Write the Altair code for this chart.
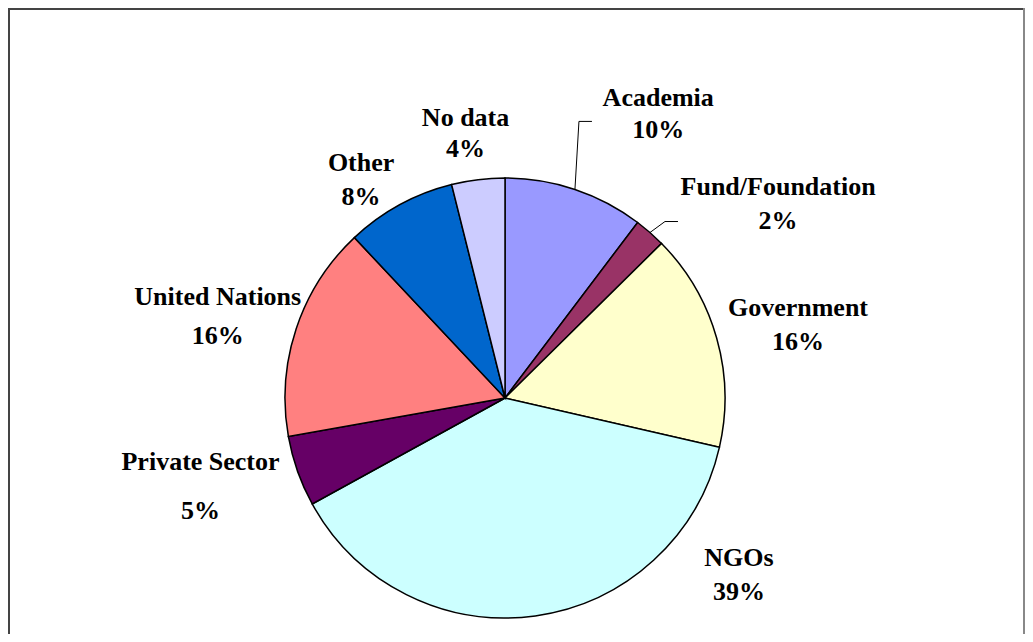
import altair as alt
import pandas as pd

# ---- data ----
categories = ["Academia", "Fund/Foundation", "Government", "NGOs",
              "Private Sector", "United Nations", "Other", "No data"]
values = [10.3, 2.3, 16.0, 38.4, 5.2, 15.8, 8.1, 3.9]
pct_labels = ["10%", "2%", "16%", "39%", "5%", "16%", "8%", "4%"]
colors = ["#9999FF", "#993366", "#FFFFCC", "#CCFFFF",
          "#660066", "#FF8080", "#0066CC", "#CCCCFF"]

df = pd.DataFrame({
    "category": categories,
    "value": values,
    "pct": pct_labels,
    "order": list(range(len(categories))),
})
df["label"] = df["category"] + "\n" + df["pct"]

# ---- layout / style ----
W, H = 1017, 626
CX, CY = 497, 390
R = 220
LABEL_R = 290
FONT = "Liberation Serif"
FS = 26

label_style = {  # dx, dy, line height
    "Academia": (61, -9, 32),
    "Fund/Foundation": (82, 24, 34),
    "Government": (14, 6, 34),
    "NGOs": (194, -110, 34),
    "Private Sector": (-31, -8, 49),
    "United Nations": (-12, 10, 39),
    "Other": (-5, 37, 34),
    "No data": (-4, 23, 31),
}
leaders = {  # elbow offset from slice edge, horizontal tail length
    "Academia": (4, -68, 13),
    "Fund/Foundation": (15, -11, 13),
}

theta_scale = alt.Scale(domain=[0, 100])
color_scale = alt.Scale(domain=categories, range=colors)

base = alt.Chart(df)

pie = base.mark_arc(outerRadius=R, stroke="black", strokeWidth=1.5).encode(
    theta=alt.Theta("value:Q", stack=True, scale=theta_scale),
    color=alt.Color("category:N", scale=color_scale, legend=None),
    order=alt.Order("order:Q"),
    x=alt.value(CX),
    y=alt.value(CY),
)

stacked = base.transform_window(
    cum="sum(value)", sort=[alt.SortField("order")], frame=[None, 0]
).transform_calculate(mid="datum.cum - datum.value / 2")

layers = [pie]
for cat in categories:
    dx, dy, lh = label_style[cat]
    layers.append(
        stacked.transform_filter(alt.datum.category == cat).mark_text(
            font=FONT, fontWeight="bold", fontSize=FS, lineBreak="\n",
            lineHeight=lh, align="center", baseline="middle",
            dx=dx, dy=dy - lh / 2, color="black",
        ).encode(
            theta=alt.Theta("mid:Q", stack=None, scale=theta_scale),
            radius=alt.value(LABEL_R),
            text="label:N",
            x=alt.value(CX),
            y=alt.value(CY),
        )
    )

for cat, (ex, ey, tail) in leaders.items():
    geo = stacked.transform_filter(alt.datum.category == cat).transform_calculate(
        x0=f"{CX} + {R} * sin(datum.mid / 100 * 2 * PI)",
        y0=f"{CY} - {R} * cos(datum.mid / 100 * 2 * PI)",
    ).transform_calculate(
        x1=f"datum.x0 + {ex}",
        y1=f"datum.y0 + {ey}",
    ).transform_calculate(
        x2=f"datum.x1 + {tail}",
    )
    layers.append(geo.mark_rule(color="black", strokeWidth=1).encode(
        x=alt.X("x0:Q", scale=None), y=alt.Y("y0:Q", scale=None),
        x2="x1:Q", y2="y1:Q"))
    layers.append(geo.mark_rule(color="black", strokeWidth=1).encode(
        x=alt.X("x1:Q", scale=None), y=alt.Y("y1:Q", scale=None),
        x2="x2:Q", y2="y1:Q"))

frame_df = pd.DataFrame({"k": [0]})
frame = alt.Chart(frame_df)
layers.append(frame.mark_rule(color="#444", strokeWidth=2).encode(
    x=alt.value(1), y=alt.value(0), y2=alt.value(H)))
layers.append(frame.mark_rule(color="#444", strokeWidth=2).encode(
    x=alt.value(0), x2=alt.value(W), y=alt.value(1)))
layers.append(frame.mark_rule(color="#888", strokeWidth=2).encode(
    x=alt.value(W - 1), y=alt.value(0), y2=alt.value(H)))

chart = alt.layer(*layers).properties(
    width=W, height=H, padding=0, autosize="none", background="white"
).configure_view(stroke=None)

chart.save("out.html", embed_options={"renderer": "svg", "actions": False})
